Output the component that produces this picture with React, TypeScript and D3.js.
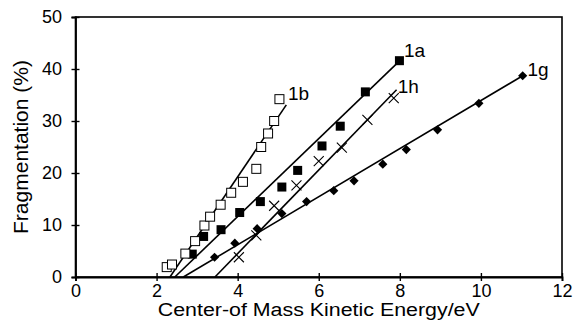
import * as d3 from "d3";
import { useEffect, useRef } from "react";

// data: [energy eV, fragmentation %]
const series1b = [
  [2.25, 1.9], [2.38, 2.4], [2.71, 4.5], [2.95, 6.9], [3.18, 9.9], [3.32, 11.6],
  [3.58, 13.9], [3.84, 16.2], [4.13, 18.3], [4.46, 20.8], [4.58, 25.0],
  [4.75, 27.6], [4.9, 30.0], [5.03, 34.2],
];
const series1a = [
  [2.88, 4.4], [3.16, 7.8], [3.59, 9.1], [4.05, 12.4], [4.56, 14.5], [5.09, 17.3],
  [5.48, 20.5], [6.08, 25.2], [6.53, 29.0], [7.15, 35.6], [7.99, 41.6],
];
const series1h = [
  [4.03, 3.8], [4.46, 8.0], [4.9, 13.7], [5.45, 17.6], [6.0, 22.3], [6.57, 24.9],
  [7.2, 30.2], [7.85, 34.4],
];
const series1g = [
  [3.43, 3.8], [3.93, 6.5], [4.48, 9.3], [5.09, 12.2], [5.7, 14.5], [6.37, 16.6],
  [6.87, 18.5], [7.58, 21.7], [8.16, 24.5], [8.93, 28.3], [9.95, 33.4], [11.03, 38.7],
];
// fitted lines (start, end)
const fit1b = [[2.33, 0], [5.2, 33.1]];
const fit1a = [[2.45, 0], [8.0, 41.6]];
const fit1h = [[3.44, 0], [7.92, 36.0]];
const fit1g = [[2.66, 0], [11.03, 38.7]];

const labels = [
  { text: "1b", x: 5.24, y: 34.0 },
  { text: "1a", x: 8.1, y: 42.4 },
  { text: "1h", x: 7.95, y: 35.4 },
  { text: "1g", x: 11.15, y: 38.6 },
];

const xTicks = [0, 2, 4, 6, 8, 10, 12];
const yTicks = [0, 10, 20, 30, 40, 50];

const W = 576;
const H = 327;
const margin = { left: 75.5, right: 14, top: 17, bottom: 50 };

export default function App() {
  const svgRef = useRef(null);

  useEffect(() => {
    const svg = d3.select(svgRef.current);
    svg.selectAll("*").remove();

    const x = d3.scaleLinear().domain([0, 12]).range([margin.left, W - margin.right]);
    const y = d3.scaleLinear().domain([0, 50]).range([H - margin.bottom, margin.top]);
    const font = "'Liberation Sans', Arial, sans-serif";

    // frame
    svg.append("rect")
      .attr("x", x(0)).attr("y", y(50))
      .attr("width", x(12) - x(0)).attr("height", y(0) - y(50))
      .attr("fill", "none").attr("stroke", "#000").attr("stroke-width", 1.6);

    // axes
    const gx = svg.append("g")
      .attr("transform", `translate(0,${y(0)})`)
      .call(d3.axisBottom(x).tickValues(xTicks).tickSize(4).tickPadding(3));
    gx.selectAll(".tick line").attr("y1", -4).attr("y2", 4).attr("stroke-width", 1.4);
    gx.select(".domain").attr("stroke-width", 1.8);
    gx.selectAll(".tick text").attr("font-size", 18).attr("font-family", font).attr("fill", "#000");

    const gy = svg.append("g")
      .attr("transform", `translate(${x(0)},0)`)
      .call(d3.axisLeft(y).tickValues(yTicks).tickSize(4).tickPadding(9.5));
    gy.selectAll(".tick line").attr("x1", -4).attr("x2", 4).attr("stroke-width", 1.4);
    gy.select(".domain").attr("stroke-width", 1.8);
    gy.selectAll(".tick text").attr("font-size", 18).attr("font-family", font).attr("fill", "#000");

    // titles
    svg.append("text")
      .attr("x", (x(0) + x(12)) / 2).attr("y", 316)
      .attr("text-anchor", "middle").attr("font-size", 18).attr("font-family", font)
      .attr("textLength", 322).attr("lengthAdjust", "spacingAndGlyphs")
      .text("Center-of Mass Kinetic Energy/eV");
    svg.append("text")
      .attr("transform", `translate(28,${(y(0) + y(50)) / 2}) rotate(-90)`)
      .attr("text-anchor", "middle").attr("font-size", 21).attr("font-family", font)
      .text("Fragmentation (%)");

    // fit lines
    const line = d3.line().x((d) => x(d[0])).y((d) => y(d[1]));
    [fit1b, fit1a, fit1h, fit1g].forEach((f) => {
      svg.append("path").attr("d", line(f)).attr("fill", "none")
        .attr("stroke", "#000").attr("stroke-width", 1.6);
    });

    // markers
    const sq = 9;
    svg.append("g").selectAll("path").data(series1g).join("path")
      .attr("d", d3.symbol(d3.symbolSquare, 42)())
      .attr("transform", (d) => `translate(${x(d[0])},${y(d[1])}) rotate(45)`)
      .attr("fill", "#000");
    svg.append("g").selectAll("path").data(series1h).join("path")
      .attr("d", "M-5,-5L5,5M-5,5L5,-5")
      .attr("transform", (d) => `translate(${x(d[0])},${y(d[1])})`)
      .attr("stroke", "#000").attr("stroke-width", 1.1).attr("fill", "none");
    svg.append("g").selectAll("rect").data(series1a).join("rect")
      .attr("x", (d) => x(d[0]) - sq / 2).attr("y", (d) => y(d[1]) - sq / 2)
      .attr("width", sq).attr("height", sq).attr("fill", "#000");
    svg.append("g").selectAll("rect").data(series1b).join("rect")
      .attr("x", (d) => x(d[0]) - sq / 2).attr("y", (d) => y(d[1]) - sq / 2)
      .attr("width", sq).attr("height", sq)
      .attr("fill", "#fff").attr("stroke", "#000").attr("stroke-width", 1);

    // series labels
    svg.append("g").selectAll("text").data(labels).join("text")
      .attr("x", (d) => x(d.x)).attr("y", (d) => y(d.y))
      .attr("font-size", 19).attr("font-family", font)
      .text((d) => d.text);
  }, []);

  return (
    <svg
      ref={svgRef}
      width={W}
      height={H}
      style={{ position: "absolute", left: 0, top: 0, background: "#fff" }}
    />
  );
}
